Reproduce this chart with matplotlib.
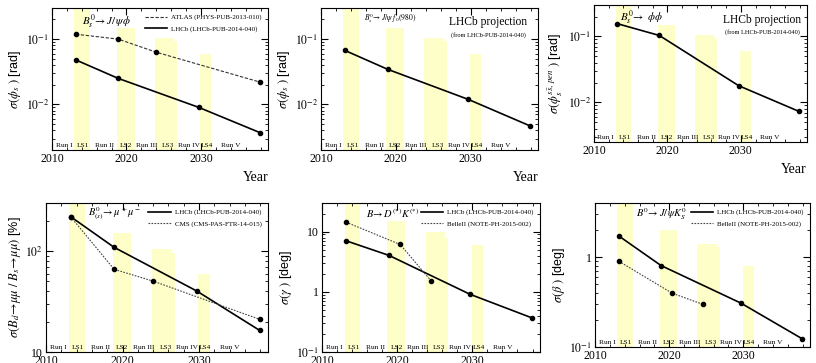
import matplotlib
matplotlib.use("Agg")
import matplotlib.pyplot as plt
from matplotlib.ticker import MultipleLocator, NullFormatter, LogLocator

plt.rcParams["font.family"] = ["Liberation Serif", "DejaVu Serif"]
plt.rcParams["mathtext.fontset"] = "stix"

# ---- shared schedule ----
lhcb_years = [2013.2, 2018.9, 2029.7, 2037.9]
other_years = [2013.2, 2018.9, 2024.0, 2037.9]
belle_years = [2013.2, 2020.4, 2024.5]

shutdown_start = [2013.0, 2018.7, 2023.8, 2026.4, 2029.9]
shutdown_end = [2015.1, 2021.1, 2026.4, 2026.8, 2031.4]

period_labels = ["Run I", "LS1", "Run II", "LS2", "Run III", "LS3", "Run IV", "LS4", "Run V"]
period_pos = [2011.6, 2014.2, 2017.1, 2019.9, 2022.7, 2025.6, 2028.4, 2030.8, 2034.0]

# ---- per-panel values ----
phis_jpsiphi_lhcb = [0.048, 0.025, 0.009, 0.0037]
phis_jpsiphi_atlas = [0.119, 0.100, 0.063, 0.022]
phis_f0_lhcb = [0.067, 0.0345, 0.0119, 0.0047]
phis_phiphi_lhcb = [0.156, 0.1035, 0.0179, 0.0073]
bdbs_lhcb = [220, 109, 40.2, 16.4]
bdbs_cms = [220, 66, 50.4, 21.1]
gamma_lhcb = [7.06, 4.04, 0.91, 0.37]
gamma_belle = [14.4, 6.13, 1.53]
beta_lhcb = [1.72, 0.806, 0.307, 0.124]
beta_belle = [0.90, 0.397, 0.299]

bars_rad = [0.5, 0.15, 0.105, 0.095, 0.06]
bars_bdbs = [500, 150, 104, 95, 60]
bars_gamma = [50, 15, 10, 8, 6]
bars_beta = [8, 2.0, 1.4, 1.3, 0.8]

YELLOW = "#fefec8"
SOLID = dict(color="black", lw=1.2, marker="o", ms=3)
DASH = dict(color="#333333", lw=0.8, ls=(0, (3, 1.5)), marker="o", ms=3, mfc="black", mec="black")
DOT = dict(color="#444444", lw=0.8, ls=(0, (1.5, 1.2)), marker="o", ms=3, mfc="black", mec="black")
LEG = dict(loc="upper right", fontsize=5, frameon=False, handlelength=3.2, handletextpad=0.6,
           borderaxespad=0.5, labelspacing=0.8, markerscale=0)


def base(ax, ylim, bars, yticks, yticklabels, ylabel, year=True):
    for x0, x1, h in zip(shutdown_start, shutdown_end, bars):
        ax.bar(x0, h, width=x1 - x0, align="edge", color=YELLOW, lw=0, zorder=0)
    ax.set_yscale("log")
    ax.set_xlim(2010, 2039)
    ax.set_ylim(*ylim)
    ax.set_xticks([2010, 2020, 2030])
    ax.xaxis.set_minor_locator(MultipleLocator(2))
    ax.set_yticks(yticks)
    ax.set_yticklabels(yticklabels)
    ax.yaxis.set_minor_locator(LogLocator(subs=range(2, 10)))
    ax.yaxis.set_minor_formatter(NullFormatter())
    ax.tick_params(which="both", direction="in", top=True, right=True, labelsize=8.5, pad=2)
    ax.tick_params(which="major", length=5)
    ax.tick_params(which="minor", length=2.5)
    for lab, x in zip(period_labels, period_pos):
        ax.text(x, 0.015, lab, transform=ax.get_xaxis_transform(), ha="center",
                va="bottom", fontsize=5.3)
    ax.set_ylabel(ylabel, family=["Liberation Sans", "DejaVu Sans"], fontsize=9, labelpad=2)
    if year:
        ax.text(1.0, -0.15, "Year", transform=ax.transAxes, ha="right", va="top", fontsize=10)


fig = plt.figure(figsize=(8.16, 3.63), dpi=100)
ax1 = fig.add_axes([0.0637, 0.5868, 0.2647, 0.3912])
ax2 = fig.add_axes([0.3934, 0.5868, 0.2659, 0.3912])
ax3 = fig.add_axes([0.7279, 0.6088, 0.2610, 0.3774])
ax4 = fig.add_axes([0.0564, 0.0303, 0.2720, 0.4105])
ax5 = fig.add_axes([0.3946, 0.0303, 0.2672, 0.4105])
ax6 = fig.add_axes([0.7292, 0.0441, 0.2635, 0.3967])

rad_ticks = [0.01, 0.1]
rad_labels = [r"$10^{-2}$", r"$10^{-1}$"]

# panel 1
base(ax1, (0.002, 0.3), bars_rad, rad_ticks, rad_labels, r"$\sigma(\phi_s\ )$ [rad]")
ax1.plot(other_years, phis_jpsiphi_atlas, label="ATLAS (PHYS-PUB-2013-010)", **DASH)
ax1.plot(lhcb_years, phis_jpsiphi_lhcb, label="LHCb (LHCb-PUB-2014-040)", **SOLID)
ax1.text(0.14, 0.9, r"$B_s^0\!\rightarrow J/\,\psi\phi$", transform=ax1.transAxes, fontsize=8, va="center")
ax1.legend(**LEG)

# panel 2
base(ax2, (0.002, 0.3), bars_rad, rad_ticks, rad_labels, r"$\sigma(\phi_s\ )$ [rad]")
ax2.plot(lhcb_years, phis_f0_lhcb, **SOLID)
ax2.text(0.2, 0.93, r"$B_s^0\!\rightarrow J/\psi\ f_0(980)$", transform=ax2.transAxes, fontsize=5.5, va="center")
ax2.text(0.77, 0.9, "LHCb projection", transform=ax2.transAxes, fontsize=8.3, ha="center", va="center")
ax2.text(0.77, 0.81, "(from LHCb-PUB-2014-040)", transform=ax2.transAxes, fontsize=4.6, ha="center", va="center")

# panel 3
base(ax3, (0.0025, 0.3), bars_rad, rad_ticks, rad_labels, r"$\sigma(\phi_s^{s\bar{s},\,pen}\ )$ [rad]")
ax3.plot(lhcb_years, phis_phiphi_lhcb, **SOLID)
ax3.text(0.12, 0.905, r"$B_s^0\!\rightarrow\ \phi\phi$", transform=ax3.transAxes, fontsize=8, va="center")
ax3.text(0.79, 0.89, "LHCb projection", transform=ax3.transAxes, fontsize=8.3, ha="center", va="center")
ax3.text(0.79, 0.8, "(from LHCb-PUB-2014-040)", transform=ax3.transAxes, fontsize=4.6, ha="center", va="center")

# panel 4
base(ax4, (10, 300), bars_bdbs, [10, 100], ["10", r"$10^{2}$"],
     r"$\sigma(B_d\!\rightarrow\!\mu\mu\ /\ B_s\!\rightarrow\!\mu\mu)$ [%]", year=False)
ax4.plot(lhcb_years, bdbs_lhcb, label="LHCb (LHCb-PUB-2014-040)", **SOLID)
ax4.plot(other_years, bdbs_cms, label="CMS (CMS-PAS-FTR-14-015)", **DOT)
ax4.text(0.19, 0.93, r"$B_{(s)}^0\!\rightarrow\mu^+\mu^-$", transform=ax4.transAxes, fontsize=7.5, va="center")
ax4.legend(**LEG)

# panel 5
base(ax5, (0.1, 30), bars_gamma, [0.1, 1, 10], [r"$10^{-1}$", "1", "10"],
     r"$\sigma(\gamma\ )$ [deg]", year=False)
ax5.plot(lhcb_years, gamma_lhcb, label="LHCb (LHCb-PUB-2014-040)", **SOLID)
ax5.plot(belle_years, gamma_belle, label="BelleII (NOTE-PH-2015-002)", **DOT)
ax5.text(0.2, 0.93, r"$B\!\rightarrow D^{(*)}K^{(*)}$", transform=ax5.transAxes, fontsize=7.5, va="center")
ax5.legend(**LEG)

# panel 6
base(ax6, (0.1, 4), bars_beta, [0.1, 1], [r"$10^{-1}$", "1"],
     r"$\sigma(\beta\ )$ [deg]", year=False)
ax6.plot(lhcb_years, beta_lhcb, label="LHCb (LHCb-PUB-2014-040)", **SOLID)
ax6.plot(belle_years, beta_belle, label="BelleII (NOTE-PH-2015-002)", **DOT)
ax6.text(0.19, 0.92, r"$B^0\!\rightarrow J/\,\psi K_S^0$", transform=ax6.transAxes, fontsize=7.5, va="center")
ax6.legend(**LEG)

fig.savefig("out.png", dpi=100)
